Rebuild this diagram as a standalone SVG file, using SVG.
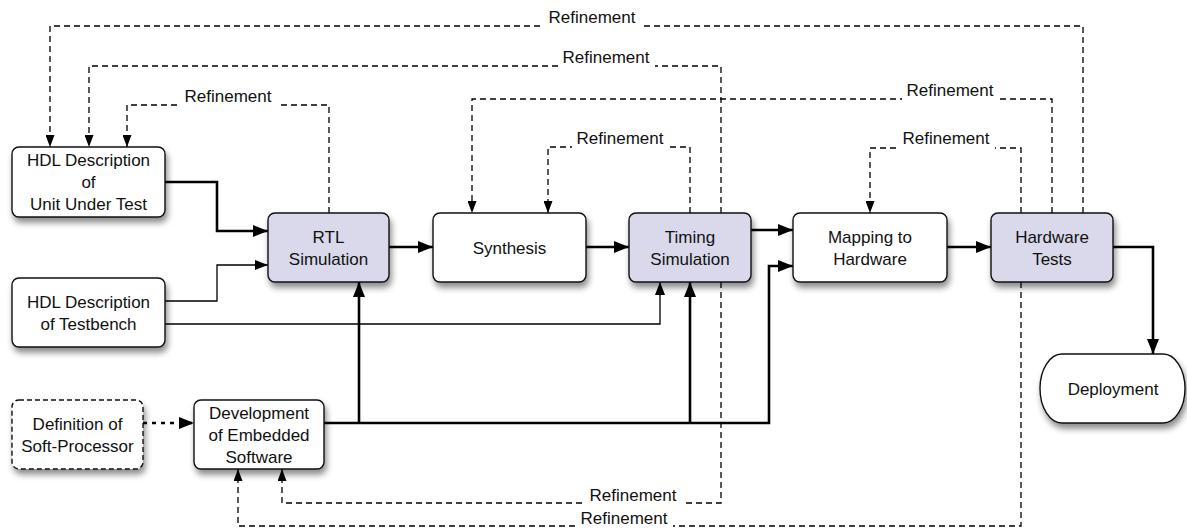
<svg xmlns="http://www.w3.org/2000/svg" width="1187" height="529" viewBox="0 0 1187 529">
<style>
text{font-family:"Liberation Sans",Arial,sans-serif;font-size:17px;fill:#111;text-anchor:middle}
.box{fill:#fff;stroke:#111;stroke-width:1.4;filter:url(#sh)}
.hl{fill:#d9d9eb}
.dbox{stroke-dasharray:5 3}
.thick{fill:none;stroke:#000;stroke-width:2.6;marker-end:url(#ah)}
.thin{fill:none;stroke:#000;stroke-width:1.3;marker-end:url(#at)}
.ref{fill:none;stroke:#000;stroke-width:1.3;stroke-dasharray:6 4}
.refa{marker-end:url(#ad)}
.lbg{fill:#fff}
</style>
<defs>
<filter id="sh" x="-20%" y="-20%" width="150%" height="160%">
<feDropShadow dx="2" dy="5" stdDeviation="3" flood-color="#000" flood-opacity="0.45"/>
</filter>
<marker id="ah" markerUnits="userSpaceOnUse" markerWidth="15" markerHeight="12" refX="15" refY="6" orient="auto"><path d="M0,0 L15,6 L0,12 Z" fill="#000"/></marker>
<marker id="at" markerUnits="userSpaceOnUse" markerWidth="13" markerHeight="10" refX="13" refY="5" orient="auto"><path d="M0,0 L13,5 L0,10 Z" fill="#000"/></marker>
<marker id="ad" markerUnits="userSpaceOnUse" markerWidth="12" markerHeight="9" refX="12" refY="4.5" orient="auto"><path d="M0,0 L12,4.5 L0,9 Z" fill="#000"/></marker>
</defs>

<g id="connectors">
<path class="ref refa" d="M1083,213 V26 H50 V147"/>
<path class="ref refa" d="M721,213 V66 H89 V147"/>
<path class="ref refa" d="M329,213 V105 H127 V147"/>
<path class="ref refa" d="M1052,213 V99 H472 V213"/>
<path class="ref refa" d="M690,213 V147 H548 V213"/>
<path class="ref refa" d="M1021,213 V148 H870 V213"/>
<path class="ref refa" d="M721,282 V503 H282 V469"/>
<path class="ref refa" d="M1021,282 V526 H238 V469"/>

<rect class="lbg" x="544" y="10" width="97" height="18"/><text x="592" y="23">Refinement</text>
<rect class="lbg" x="558" y="50" width="97" height="18"/><text x="606" y="63">Refinement</text>
<rect class="lbg" x="180" y="89" width="97" height="18"/><text x="228" y="102">Refinement</text>
<rect class="lbg" x="902" y="83" width="97" height="18"/><text x="950" y="96">Refinement</text>
<rect class="lbg" x="572" y="131" width="97" height="18"/><text x="620" y="144">Refinement</text>
<rect class="lbg" x="898" y="131" width="97" height="18"/><text x="946" y="144">Refinement</text>
<rect class="lbg" x="585" y="488" width="97" height="17"/><text x="633" y="501">Refinement</text>
<rect class="lbg" x="576" y="511" width="97" height="17"/><text x="624" y="524">Refinement</text>

<path class="thick" d="M165,182 H217 V231 H268"/>
<path class="thin" d="M165,301 H217 V265 H268"/>
<path class="thin" d="M165,324 H660 V282"/>
<path class="thick" d="M389,247 H433"/>
<path class="thick" d="M586,247 H629"/>
<path class="thick" d="M751,230 H793"/>
<path class="thick" d="M947,247 H991"/>
<path class="thick" d="M1113,247 H1153 V354"/>
<path class="thick" d="M324,423 H769 V266 H793"/>
<path class="thick" d="M359,423 V282"/>
<path class="thick" d="M690,423 V282"/>
<path class="thick" d="M143,423 H194" stroke-dasharray="4 5"/>
</g>

<g id="uut"><rect class="box" x="12" y="147" width="153" height="70" rx="7"/>
<text x="88.5" y="166">HDL Description</text><text x="88.5" y="188">of</text><text x="88.5" y="210">Unit Under Test</text></g>
<g id="testbench"><rect class="box" x="12" y="278" width="153" height="69" rx="7"/>
<text x="88.5" y="307.5">HDL Description</text><text x="88.5" y="329.5">of Testbench</text></g>
<g id="rtl"><rect class="box hl" x="268" y="213" width="121" height="69" rx="7"/>
<text x="328.5" y="242.5">RTL</text><text x="328.5" y="264.5">Simulation</text></g>
<g id="synthesis"><rect class="box" x="433" y="213" width="153" height="69" rx="7"/>
<text x="509.5" y="253.5">Synthesis</text></g>
<g id="timing"><rect class="box hl" x="629" y="213" width="122" height="69" rx="7"/>
<text x="690" y="242.5">Timing</text><text x="690" y="264.5">Simulation</text></g>
<g id="mapping"><rect class="box" x="793" y="213" width="154" height="69" rx="7"/>
<text x="870" y="242.5">Mapping to</text><text x="870" y="264.5">Hardware</text></g>
<g id="hwtests"><rect class="box hl" x="991" y="213" width="122" height="69" rx="7"/>
<text x="1052" y="242.5">Hardware</text><text x="1052" y="264.5">Tests</text></g>
<g id="deployment"><path class="box" d="M1062,354 H1163 A22,34.5 0 0 1 1163,423 H1062 A22,34.5 0 0 1 1062,354 Z"/>
<text x="1113" y="395">Deployment</text></g>
<g id="softproc"><rect class="box dbox" x="12" y="400" width="131" height="69" rx="7"/>
<text x="77.5" y="429.5">Definition of</text><text x="77.5" y="451.5">Soft-Processor</text></g>
<g id="embedded"><rect class="box" x="194" y="400" width="130" height="69" rx="7"/>
<text x="259" y="418.5">Development</text><text x="259" y="440.5">of Embedded</text><text x="259" y="462.5">Software</text></g>
</svg>
